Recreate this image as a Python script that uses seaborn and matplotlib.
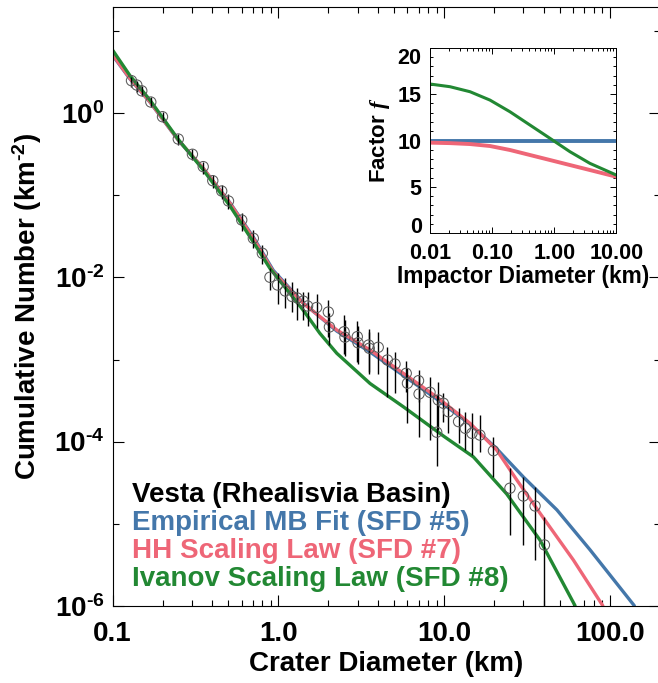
import numpy as np
import matplotlib
matplotlib.use("Agg")
import matplotlib.pyplot as plt
import seaborn as sns
from matplotlib.ticker import FixedLocator, FixedFormatter, LogLocator, NullFormatter, MultipleLocator

# ---------------- data ----------------
# model curves (crater diameter km, cumulative number km^-2)
mb_d = [0.1, 0.127, 0.168, 0.249, 0.352, 0.511, 0.706, 0.931, 1.41, 2.25, 3.56, 5.66, 9.0, 14.3, 20.7, 30.0, 47.8, 75.7, 140.0]
mb_n = [5.1, 2.64, 1.37, 0.47, 0.213, 0.081, 0.031, 0.0122, 0.0049, 0.00222, 0.00124, 6.4e-4, 3.3e-4, 1.63e-4, 8.2e-5, 3.7e-5, 1.47e-5, 4.8e-6, 1.0e-6]

hh_d = [0.1, 0.127, 0.168, 0.249, 0.352, 0.511, 0.706, 0.931, 1.41, 2.25, 3.56, 5.66, 9.0, 14.3, 20.7, 27.4, 37.8, 60.1, 90.4]
hh_n = [5.2, 2.67, 1.38, 0.473, 0.214, 0.080, 0.030, 0.0117, 0.00484, 0.00229, 0.00131, 6.8e-4, 3.5e-4, 1.67e-4, 7.9e-5, 3.4e-5, 1.34e-5, 3.6e-6, 1.0e-6]

iv_d = [0.1, 0.127, 0.168, 0.249, 0.352, 0.511, 0.706, 0.889, 1.41, 1.78, 2.25, 3.57, 5.66, 10.0, 15.0, 23.8, 37.8, 61.5]
iv_n = [5.9, 2.9, 1.45, 0.48, 0.205, 0.074, 0.027, 0.0129, 0.0040, 0.00208, 0.00119, 5.1e-4, 2.66e-4, 1.15e-4, 6.5e-5, 2.3e-5, 6.3e-6, 1.0e-6]

# Vesta (Rheasilvia basin) crater counts
obs_d = [0.130, 0.140, 0.150, 0.170, 0.200, 0.249, 0.303, 0.352, 0.402, 0.455,
         0.500, 0.601, 0.706, 0.800, 0.889, 0.988, 1.10, 1.21, 1.30, 1.41,
         1.50, 1.70, 2.00, 2.03, 2.49, 2.52, 2.99, 3.02, 3.50, 3.53,
         4.00, 4.54, 5.05, 5.90, 6.00, 7.00, 7.05, 8.21, 9.01, 9.21,
         9.88, 10.6, 12.2, 13.4, 14.7, 16.4, 19.8, 24.9, 30.0, 35.3, 40.2]
obs_n = [2.50, 2.21, 1.88, 1.373, 0.909, 0.486, 0.317, 0.224, 0.151, 0.113,
         0.0854, 0.0501, 0.0300, 0.0197, 0.01005, 0.00809, 0.00684, 0.00586, 0.00562, 0.00516,
         0.00449, 0.00430, 0.00379, 0.00249, 0.00218, 0.00187, 0.00190, 0.00160, 0.00150, 0.00137,
         0.00141, 0.000986, 0.00088, 0.000679, 0.000513, 0.000552, 0.00038, 0.000398, 0.00013, 0.000321,
         0.000293, 0.000231, 0.000175, 0.000145, 0.000126, 0.00012, 7.74e-5, 2.7e-5, 2.17e-5, 1.64e-5, 5.5e-6]
obs_lo = [2.11, 1.83, 1.62, 1.19, 0.783, 0.411, 0.270, 0.182, 0.123, 0.0903,
          0.0682, 0.0368, 0.0229, 0.0146, 0.00703, 0.00475, 0.00425, 0.00379, 0.00303, 0.00303,
          0.00256, 0.00242, 0.00188, 0.0015, 0.00117, 0.0011, 0.00094, 0.00088, 0.00071, 0.000666,
          0.000666, 0.000352, 0.000387, 0.0004, 0.000167, 0.0003, 0.000115, 0.000105, 5.04e-5, 0.000138,
          0.000175, 0.000126, 9.53e-5, 7.89e-5, 6.87e-5, 7.53e-5, 3.73e-5, 7.28e-6, 5.51e-6, 3.6e-6, 1e-8]
obs_hi = [2.79, 2.50, 2.15, 1.58, 1.037, 0.560, 0.367, 0.255, 0.177, 0.134,
          0.104, 0.061, 0.0379, 0.0249, 0.0129, 0.0113, 0.00984, 0.00879, 0.00743, 0.00665,
          0.00665, 0.00628, 0.00531, 0.00369, 0.00349, 0.00303, 0.00294, 0.00256, 0.00236, 0.00218,
          0.00218, 0.00143, 0.00124, 0.00095, 0.000782, 0.00075, 0.000648, 0.000618, 0.00037, 0.000537,
          0.000388, 0.000306, 0.000255, 0.000231, 0.000221, 0.000211, 0.000115, 4.72e-5, 3.73e-5, 2.82e-5, 1.2e-5]

# inset: factor f vs impactor diameter (km)
f_d = [0.01, 0.021, 0.0441, 0.0923, 0.194, 0.407, 0.854, 1.79, 3.76, 10.0]
f_mb = [10.0, 10.0, 10.0, 10.0, 10.0, 10.0, 10.0, 10.0, 10.0, 10.0]
f_hh = [9.77, 9.72, 9.62, 9.41, 8.98, 8.44, 7.90, 7.36, 6.82, 6.10]
f_iv = [16.09, 15.8, 15.26, 14.36, 13.1, 11.67, 10.24, 8.8, 7.54, 6.28]

legend_labels = ["Vesta (Rhealisvia Basin)", "Empirical MB Fit (SFD #5)",
                 "HH Scaling Law (SFD #7)", "Ivanov Scaling Law (SFD #8)"]

xticks = [0.1, 1.0, 10.0, 100.0]
xticklabels = ["0.1", "1.0", "10.0", "100.0"]
yticks = [1e-6, 1e-4, 1e-2, 1e0]
yticklabels = [r"$\mathbf{10^{\text{-6}}}$", r"$\mathbf{10^{\text{-4}}}$",
               r"$\mathbf{10^{\text{-2}}}$", r"$\mathbf{10^{0}}$"]
yminor = [1e-5, 1e-3, 1e-1, 1e1]

in_xticks = [0.01, 0.1, 1.0, 10.0]
in_xticklabels = ["0.01", "0.10", "1.00", "10.00"]
in_yticks = [0, 5, 10, 15, 20]
in_yticklabels = ["0", "5", "10", "15", "20"]

# ---------------- style ----------------
BLUE = "#4477AA"
RED = "#EE6677"
GREEN = "#228833"

sns.set_theme(style="ticks")
plt.rcParams["font.family"] = ["Liberation Sans", "DejaVu Sans"]
plt.rcParams["font.weight"] = "bold"
plt.rcParams["mathtext.fontset"] = "custom"
plt.rcParams["mathtext.rm"] = "Liberation Sans:bold"
plt.rcParams["mathtext.bf"] = "Liberation Sans:bold"
plt.rcParams["mathtext.it"] = "Liberation Serif:italic"
plt.rcParams["mathtext.default"] = "rm"
plt.rcParams["axes.edgecolor"] = "black"
plt.rcParams["xtick.color"] = "black"
plt.rcParams["ytick.color"] = "black"
plt.rcParams["text.color"] = "black"
plt.rcParams["axes.labelcolor"] = "black"

FS = 20

fig = plt.figure(figsize=(6.58, 6.83), dpi=100)
ax = fig.add_axes([0.1711, 0.1132, 0.8319, 0.8772])
ax.set_xscale("log")
ax.set_yscale("log")

for d, n, c in [(mb_d, mb_n, BLUE), (hh_d, hh_n, RED), (iv_d, iv_n, GREEN)]:
    sns.lineplot(x=d, y=n, ax=ax, color=c, lw=2.4, estimator=None, sort=False, zorder=2)

ax.vlines(obs_d, obs_lo, obs_hi, color="black", lw=1.0, zorder=4)
sns.scatterplot(x=obs_d, y=obs_n, ax=ax, marker="o", s=55, facecolors="none",
                edgecolor="#5a5a5a", linewidth=0.75, zorder=5)

ax.set_xlim(0.1, 200)
ax.set_ylim(1e-6, 20)

ax.xaxis.set_major_locator(FixedLocator(xticks))
ax.xaxis.set_major_formatter(FixedFormatter(xticklabels))
ax.xaxis.set_minor_locator(LogLocator(base=10, subs=np.arange(2, 10), numticks=30))
ax.xaxis.set_minor_formatter(NullFormatter())
ax.yaxis.set_major_locator(FixedLocator(yticks))
ax.yaxis.set_major_formatter(FixedFormatter(yticklabels))
ax.yaxis.set_minor_locator(FixedLocator(yminor))
ax.yaxis.set_minor_formatter(NullFormatter())
ax.tick_params(which="both", direction="in", top=True, right=True, width=0.8, colors="black")
ax.tick_params(which="major", length=8)
ax.tick_params(which="minor", length=4)
ax.tick_params(axis="x", which="major", pad=11, labelsize=FS)
ax.tick_params(axis="y", which="major", pad=6, labelsize=FS)
for s in ax.spines.values():
    s.set_linewidth(0.8)
    s.set_color("black")

ax.set_xlabel("Crater Diameter (km)", fontsize=FS, fontweight="bold", labelpad=3)
ax.set_ylabel(r"Cumulative Number (km$^{\text{-2}}$)", fontsize=FS, fontweight="bold")
ax.yaxis.set_label_coords(-0.125, 0.5)

for lab, c, yy in zip(legend_labels, ["black", BLUE, RED, GREEN], [0.1736, 0.1263, 0.0791, 0.0329]):
    ax.text(0.035, yy, lab, transform=ax.transAxes, color=c, fontsize=FS,
            fontweight="bold", va="baseline", ha="left")

# ---------------- inset ----------------
axin = fig.add_axes([0.6535, 0.6584, 0.2831, 0.2717])
axin.set_xscale("log")
sns.lineplot(x=f_d, y=f_mb, ax=axin, color=BLUE, lw=2.8, estimator=None)
sns.lineplot(x=f_d, y=f_hh, ax=axin, color=RED, lw=2.8, estimator=None)
sns.lineplot(x=f_d, y=f_iv, ax=axin, color=GREEN, lw=2.2, estimator=None)
axin.set_xlim(0.01, 10)
axin.set_ylim(0, 20)
axin.xaxis.set_major_locator(FixedLocator(in_xticks))
axin.xaxis.set_major_formatter(FixedFormatter(in_xticklabels))
axin.xaxis.set_minor_locator(LogLocator(base=10, subs=np.arange(2, 10), numticks=30))
axin.xaxis.set_minor_formatter(NullFormatter())
axin.yaxis.set_major_locator(FixedLocator(in_yticks))
axin.yaxis.set_major_formatter(FixedFormatter(in_yticklabels))
axin.yaxis.set_minor_locator(MultipleLocator(1))
axin.tick_params(which="both", direction="in", top=True, right=True, width=0.7, colors="black")
axin.tick_params(which="major", length=4)
axin.tick_params(which="minor", length=2)
axin.tick_params(axis="x", which="major", pad=7, labelsize=15.5)
axin.tick_params(axis="y", which="major", pad=6, labelsize=15.5)
for s in axin.spines.values():
    s.set_linewidth(0.7)
    s.set_color("black")
axin.set_xlabel("Impactor Diameter (km)", fontsize=16.3, fontweight="bold", labelpad=1)
axin.set_ylabel(r"Factor $\mathit{f}$", fontsize=16, fontweight="bold", labelpad=4)
yl = axin.get_yticklabels()
yl[0].set_va("baseline")
yl[-1].set_va("top")

fig.savefig("out.png", dpi=100)
